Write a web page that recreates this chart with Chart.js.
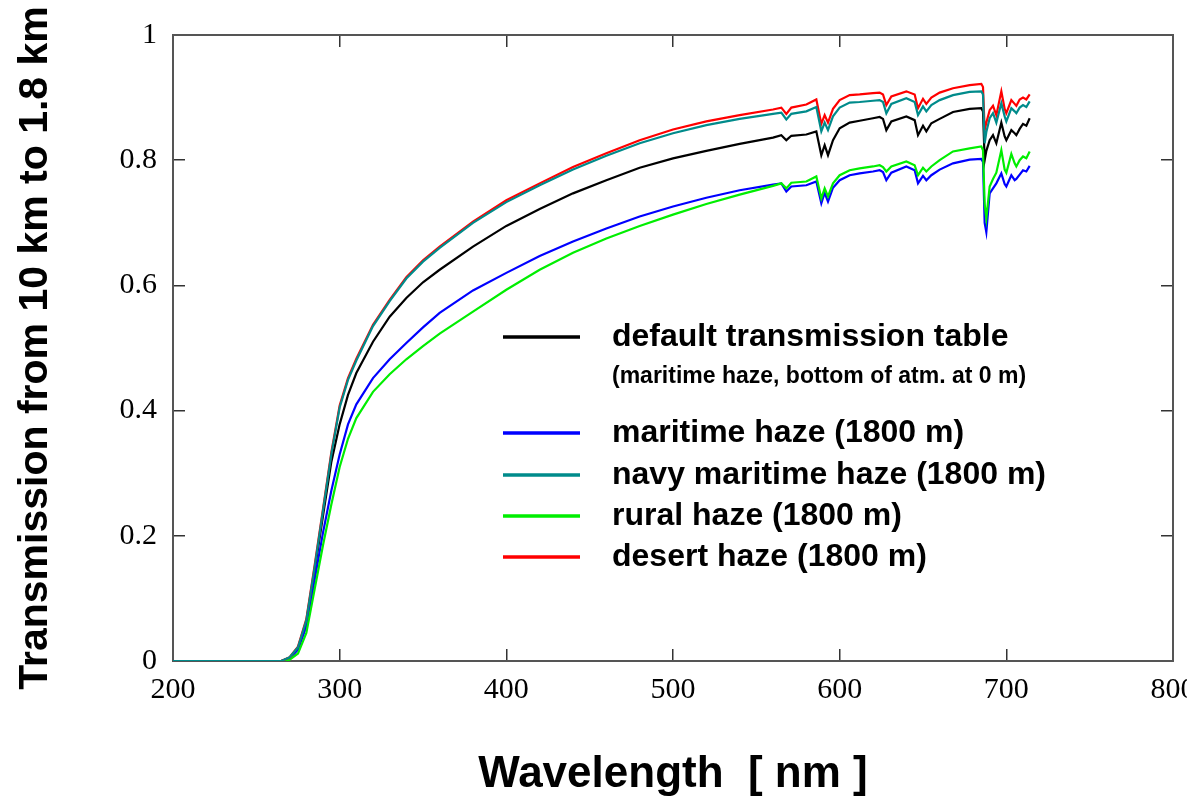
<!DOCTYPE html>
<html><head><meta charset="utf-8">
<script src="https://cdn.jsdelivr.net/npm/chart.js@4.4.1/dist/chart.umd.min.js"></script>
<style>html,body{margin:0;padding:0;background:#fff;overflow:hidden}#wrap{width:1187px;height:803px;position:relative}</style>
</head><body><div id="wrap"><canvas id="c" width="1187" height="803"></canvas></div>
<script>
// Wavelength samples (nm)
const wavelengths = [200,260,265,270,275,280,285,290,295,300,305,310,320,330,340,350,360,380,400,420,440,460,480,500,520,540,560,565,568,571,580,586,589,591,593,596,600,606,612,620,624,626,628,631,640,645,647,650,652,655,660,668,678,685,686,687,688,690,692,694,697,699,700,703,705,706,708,710,712,714];

const defaultTable = [0,0,0,0.005,0.02,0.062,0.145,0.232,0.318,0.378,0.425,0.46,0.51,0.55,0.58,0.605,0.625,0.662,0.695,0.722,0.747,0.768,0.788,0.803,0.815,0.826,0.836,0.840,0.832,0.839,0.841,0.846,0.808,0.824,0.808,0.832,0.851,0.860,0.863,0.867,0.869,0.866,0.848,0.862,0.870,0.864,0.840,0.855,0.846,0.859,0.866,0.877,0.882,0.883,0.878,0.80,0.815,0.832,0.84,0.827,0.86,0.838,0.832,0.848,0.843,0.84,0.85,0.858,0.855,0.867];

const maritime = [0,0,0,0.004,0.018,0.055,0.13,0.205,0.272,0.33,0.378,0.41,0.452,0.482,0.508,0.533,0.556,0.592,0.62,0.647,0.67,0.691,0.71,0.726,0.74,0.752,0.761,0.763,0.750,0.758,0.760,0.766,0.731,0.748,0.734,0.756,0.768,0.776,0.779,0.782,0.784,0.781,0.768,0.78,0.790,0.784,0.763,0.775,0.768,0.776,0.785,0.795,0.801,0.802,0.797,0.70,0.685,0.747,0.755,0.763,0.779,0.762,0.758,0.776,0.768,0.770,0.777,0.784,0.782,0.791];

const navyMaritime = [0,0,0,0.006,0.022,0.065,0.15,0.24,0.33,0.405,0.449,0.48,0.535,0.575,0.611,0.638,0.66,0.70,0.733,0.76,0.785,0.807,0.827,0.843,0.856,0.866,0.874,0.876,0.865,0.874,0.878,0.885,0.846,0.86,0.848,0.87,0.884,0.892,0.893,0.895,0.896,0.893,0.875,0.890,0.899,0.893,0.872,0.886,0.878,0.888,0.896,0.904,0.909,0.910,0.905,0.827,0.845,0.867,0.875,0.86,0.891,0.87,0.862,0.883,0.878,0.875,0.884,0.888,0.885,0.894];

const rural = [0,0,0,0.002,0.012,0.045,0.115,0.185,0.25,0.31,0.355,0.388,0.43,0.458,0.482,0.503,0.523,0.558,0.593,0.625,0.652,0.675,0.695,0.713,0.730,0.745,0.759,0.763,0.755,0.764,0.766,0.774,0.739,0.755,0.742,0.763,0.776,0.784,0.787,0.790,0.792,0.789,0.782,0.79,0.798,0.792,0.776,0.788,0.782,0.790,0.800,0.814,0.819,0.822,0.816,0.73,0.707,0.758,0.77,0.78,0.816,0.785,0.78,0.81,0.795,0.79,0.80,0.806,0.803,0.814];

const desert = [0,0,0,0.006,0.023,0.067,0.153,0.243,0.333,0.408,0.452,0.483,0.537,0.577,0.613,0.640,0.662,0.702,0.736,0.763,0.789,0.811,0.832,0.849,0.862,0.872,0.881,0.884,0.874,0.884,0.889,0.897,0.858,0.872,0.86,0.882,0.896,0.904,0.905,0.907,0.908,0.905,0.888,0.902,0.91,0.905,0.883,0.898,0.89,0.9,0.908,0.915,0.920,0.922,0.917,0.848,0.86,0.88,0.887,0.872,0.91,0.882,0.875,0.896,0.89,0.887,0.897,0.9,0.897,0.905];

const seriesLabels = ['default transmission table','maritime haze (1800 m)','navy maritime haze (1800 m)','rural haze (1800 m)','desert haze (1800 m)'];
const legendNote = '(maritime haze, bottom of atm. at 0 m)';
const seriesColors = ['#000000','#0000ff','#008b8b','#00ee00','#ff0000'];
const xTickValues = [200,300,400,500,600,700,800];
const yTickValues = [0,0.2,0.4,0.6,0.8,1];
const xTitle = 'Wavelength  [ nm ]';
const yTitle = 'Transmission from 10 km to 1.8 km';

const seriesValues = [defaultTable, maritime, navyMaritime, rural, desert];
const drawOrder = [4,3,0,2,1];

const datasets = seriesValues.map((vals, i) => ({
  label: seriesLabels[i],
  data: wavelengths.map((w, j) => ({x: w, y: vals[j]})),
  borderColor: seriesColors[i],
  backgroundColor: seriesColors[i],
  borderWidth: 2.2,
  pointRadius: 0,
  tension: 0,
  fill: false,
  order: drawOrder[i],
  xAxisID: 'x', yAxisID: 'y'
}));

const legendPlugin = {
  id: 'customLegend',
  afterDatasetsDraw(chart) {
    const ctx = chart.ctx;
    ctx.save();
    const rows = [337, 433, 475, 516, 557];
    const x0 = 503, x1 = 580, tx = 612;
    rows.forEach((y, i) => {
      ctx.strokeStyle = seriesColors[i];
      ctx.lineWidth = 3.5;
      ctx.beginPath(); ctx.moveTo(x0, y); ctx.lineTo(x1, y); ctx.stroke();
      ctx.fillStyle = '#000';
      ctx.font = 'bold 32px "Liberation Sans", Arial, sans-serif';
      ctx.textBaseline = 'middle';
      ctx.textAlign = 'left';
      ctx.fillText(seriesLabels[i], tx, y);
    });
    ctx.font = 'bold 23px "Liberation Sans", Arial, sans-serif';
    ctx.fillText(legendNote, tx, 377);
    ctx.restore();
  }
};

const gridOpts = {drawOnChartArea: false, drawTicks: true, tickLength: -12, color: '#333', lineWidth: 1.5};
const borderOpts = {display: true, color: '#555', width: 2};
const tickFont = {family: '"Liberation Serif", "Times New Roman", serif', size: 30};

new Chart(document.getElementById('c'), {
  type: 'line',
  data: {datasets},
  options: {
    responsive: false,
    animation: false,
    devicePixelRatio: 1,
    layout: {padding: 0},
    plugins: {legend: {display: false}, tooltip: {enabled: false}},
    scales: {
      x: {
        type: 'linear', position: 'bottom', min: 200, max: 800,
        afterBuildTicks: s => { s.ticks = xTickValues.map(v => ({value: v})); },
        ticks: {font: tickFont, color: '#000', padding: 23, maxRotation: 0, autoSkip: false},
        grid: gridOpts, border: borderOpts,
        title: {display: true, text: xTitle, color: '#000', font: {family: '"Liberation Sans", Arial, sans-serif', size: 44, weight: 'bold'}, padding: {top: 0, bottom: 2}},
        afterFit: s => { s.height = 142; s.paddingLeft = 0; s.paddingRight = 0; }
      },
      x2: {
        type: 'linear', position: 'top', min: 200, max: 800,
        afterBuildTicks: s => { s.ticks = xTickValues.map(v => ({value: v})); },
        ticks: {display: false},
        grid: gridOpts, border: borderOpts,
        afterFit: s => { s.height = 35; s.paddingLeft = 0; s.paddingRight = 0; }
      },
      y: {
        type: 'linear', position: 'left', min: 0, max: 1,
        afterBuildTicks: s => { s.ticks = yTickValues.map(v => ({value: v})); },
        ticks: {font: tickFont, color: '#000', padding: 28, callback: v => String(v)},
        grid: gridOpts, border: borderOpts,
        title: {display: true, text: yTitle, color: '#000', font: {family: '"Liberation Sans", Arial, sans-serif', size: 41, weight: 'bold'}, padding: {top: 11, bottom: 0}},
        afterFit: s => { s.width = 173; s.paddingTop = 0; s.paddingBottom = 0; }
      },
      y2: {
        type: 'linear', position: 'right', min: 0, max: 1,
        afterBuildTicks: s => { s.ticks = yTickValues.map(v => ({value: v})); },
        ticks: {display: false},
        grid: gridOpts, border: borderOpts,
        afterFit: s => { s.width = 14; s.paddingTop = 0; s.paddingBottom = 0; }
      }
    }
  },
  plugins: [legendPlugin]
});
</script>
</body></html>
